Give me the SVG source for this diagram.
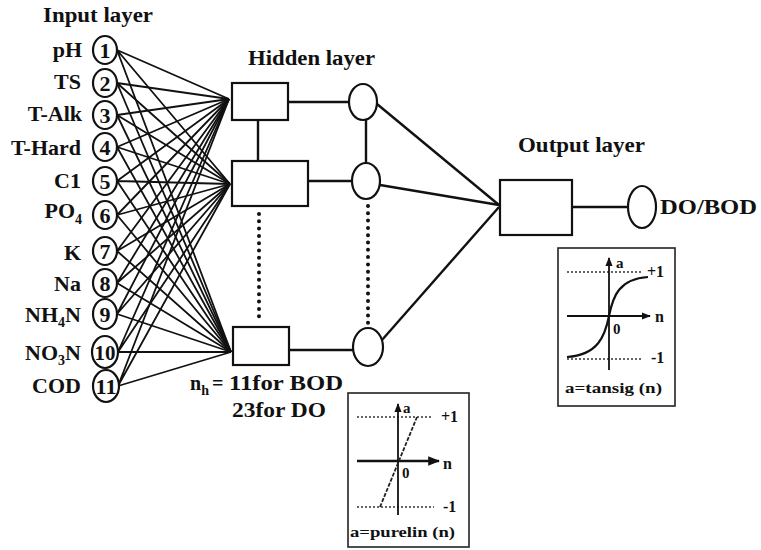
<svg xmlns="http://www.w3.org/2000/svg" width="761" height="550" viewBox="0 0 761 550">
  <style>
    text { font-family: "Liberation Serif", "Times New Roman", serif; font-weight: bold; fill: #111; }
    .head { font-size: 20px; }
    .lbl { font-size: 22px; text-anchor: end; }
    .num { font-size: 22px; text-anchor: middle; }
    .sub { font-size: 14px; }
    .node { fill: #fff; stroke: #111; stroke-width: 2.2; }
    .wire { stroke: #111; stroke-width: 1.8; fill: none; }
    .link { stroke: #111; stroke-width: 2.4; fill: none; }
    .dots { stroke: #111; stroke-width: 4; stroke-linecap: round; stroke-dasharray: 0 7.3; fill: none; }
    .frame { fill: #fff; stroke: #222; stroke-width: 1.6; }
    .axis { stroke: #111; stroke-width: 1.8; fill: none; }
    .guide { stroke: #333; stroke-width: 1.4; stroke-dasharray: 2 2; fill: none; }
    .small { font-size: 15px; }
    .tick { font-size: 16px; }
  </style>
  <defs>
    <marker id="arrow" viewBox="0 0 10 10" refX="9" refY="5" markerWidth="5" markerHeight="5" orient="auto">
      <path d="M0,1 L10,5 L0,9 z" fill="#111"/>
    </marker>
  </defs>

  <rect width="761" height="550" fill="#fff"/>

  <!-- layer headings -->
  <text class="head" x="43" y="22" textLength="110" lengthAdjust="spacingAndGlyphs">Input layer</text>
  <text class="head" x="248" y="65" textLength="127" lengthAdjust="spacingAndGlyphs">Hidden layer</text>
  <text class="head" x="518" y="152" style="font-size:21px" textLength="127" lengthAdjust="spacingAndGlyphs">Output layer</text>

  <!-- connectors: every input to every hidden unit, hidden to output -->
  <g id="connectors">
    <g class="wire">
      <path d="M117,50 L229,99 M117,50 L230,184 M117,50 L231,352"/>
      <path d="M117,83 L229,99 M117,83 L230,184 M117,83 L231,352"/>
      <path d="M117,115 L229,99 M117,115 L230,184 M117,115 L231,352"/>
      <path d="M117,147 L229,99 M117,147 L230,184 M117,147 L231,352"/>
      <path d="M117,181 L229,99 M117,181 L230,184 M117,181 L231,352"/>
      <path d="M117,215 L229,99 M117,215 L230,184 M117,215 L231,352"/>
      <path d="M117,251 L229,99 M117,251 L230,184 M117,251 L231,352"/>
      <path d="M117,283 L229,99 M117,283 L230,184 M117,283 L231,352"/>
      <path d="M117,314 L229,99 M117,314 L230,184 M117,314 L231,352"/>
      <path d="M118,352 L229,99 M118,352 L230,184 M118,352 L231,352"/>
      <path d="M118,386 L229,99 M118,386 L230,184 M118,386 L231,352"/>
    </g>
    <g class="link">
      <!-- summing boxes to transfer units -->
      <path d="M288,102 L349,102"/>
      <path d="M308,181 L352,181"/>
      <path d="M289,350 L353,350"/>
      <!-- vertical ties -->
      <path d="M258,120 L258,161"/>
      <path d="M366,119 L366,163"/>
      <!-- transfer units to output -->
      <path d="M377,104 L499,205"/>
      <path d="M380,185 L499,205"/>
      <path d="M382,340 L499,207"/>
      <!-- output to result -->
      <path d="M572,207 L628,207"/>
    </g>
    <path class="dots" d="M259,214 L259,322"/>
    <path class="dots" d="M368,206 L368,324"/>
  </g>

  <!-- input neurons -->
  <g id="in-1"><ellipse class="node" cx="105" cy="50" rx="12" ry="14"/><text class="num" x="105" y="58">1</text><text class="lbl" x="82" y="57">pH</text></g>
  <g id="in-2"><ellipse class="node" cx="105" cy="83" rx="12" ry="14"/><text class="num" x="105" y="91">2</text><text class="lbl" x="81" y="89">TS</text></g>
  <g id="in-3"><ellipse class="node" cx="105" cy="115" rx="12" ry="14"/><text class="num" x="105" y="123">3</text><text class="lbl" x="82" y="121">T-Alk</text></g>
  <g id="in-4"><ellipse class="node" cx="105" cy="147" rx="12" ry="14"/><text class="num" x="105" y="155">4</text><text class="lbl" x="81" y="155">T-Hard</text></g>
  <g id="in-5"><ellipse class="node" cx="105" cy="181" rx="12" ry="14"/><text class="num" x="105" y="189">5</text><text class="lbl" x="81" y="188">C1</text></g>
  <g id="in-6"><ellipse class="node" cx="105" cy="215" rx="12" ry="14"/><text class="num" x="105" y="223">6</text><text class="lbl" x="82" y="218">PO<tspan class="sub" dy="6">4</tspan></text></g>
  <g id="in-7"><ellipse class="node" cx="105" cy="251" rx="12" ry="14"/><text class="num" x="105" y="259">7</text><text class="lbl" x="81" y="260">K</text></g>
  <g id="in-8"><ellipse class="node" cx="105" cy="283" rx="12" ry="14"/><text class="num" x="105" y="291">8</text><text class="lbl" x="81" y="291">Na</text></g>
  <g id="in-9"><ellipse class="node" cx="105" cy="314" rx="12" ry="15"/><text class="num" x="105" y="322">9</text><text class="lbl" x="81" y="322">NH<tspan class="sub" dy="5">4</tspan><tspan dy="-5">N</tspan></text></g>
  <g id="in-10"><ellipse class="node" cx="105" cy="352" rx="13" ry="16"/><text class="num" x="105" y="360" textLength="21" lengthAdjust="spacingAndGlyphs">10</text><text class="lbl" x="81" y="360">NO<tspan class="sub" dy="5">3</tspan><tspan dy="-5">N</tspan></text></g>
  <g id="in-11"><ellipse class="node" cx="106" cy="386" rx="13" ry="16"/><text class="num" x="106" y="394" textLength="21" lengthAdjust="spacingAndGlyphs">11</text><text class="lbl" x="81" y="393">COD</text></g>

  <!-- hidden layer: summing boxes -->
  <g id="hidden-sum-1"><rect class="node" x="232" y="83" width="56" height="37"/></g>
  <g id="hidden-sum-2"><rect class="node" x="232" y="161" width="76" height="45"/></g>
  <g id="hidden-sum-n"><rect class="node" x="233" y="327" width="56" height="38"/></g>

  <!-- hidden layer: transfer units -->
  <g id="hidden-act-1"><ellipse class="node" cx="363" cy="102" rx="14" ry="18"/></g>
  <g id="hidden-act-2"><ellipse class="node" cx="366" cy="181" rx="14" ry="18"/></g>
  <g id="hidden-act-n"><ellipse class="node" cx="368" cy="347" rx="15" ry="19"/></g>

  <!-- hidden size note -->
  <g id="hidden-size">
    <text style="font-size:20px" x="190" y="390">n<tspan class="sub" dy="5">h</tspan></text>
    <text style="font-size:20px" x="212" y="390">=</text>
    <text style="font-size:20px" x="229" y="390" textLength="114" lengthAdjust="spacingAndGlyphs">11for BOD</text>
    <text style="font-size:20px" x="232" y="417" textLength="94" lengthAdjust="spacingAndGlyphs">23for DO</text>
  </g>

  <!-- output layer -->
  <g id="output-sum"><rect class="node" x="500" y="180" width="72" height="55"/></g>
  <g id="output-node">
    <ellipse class="node" cx="642" cy="207" rx="14" ry="21"/>
    <text style="font-size:22px" x="660" y="214" textLength="97" lengthAdjust="spacingAndGlyphs">DO/BOD</text>
  </g>

  <!-- linear transfer function -->
  <g id="purelin-plot">
    <rect class="frame" x="348" y="393" width="121" height="154"/>
    <path class="guide" d="M357,417 L432,417"/>
    <path class="guide" d="M357,507 L434,507"/>
    <path class="axis" d="M398,515 L398,404" marker-end="url(#arrow)"/>
    <path class="axis" d="M357,461 L439,461" marker-end="url(#arrow)" style="stroke-width:2.4"/>
    <path d="M380,507 L417,417" stroke="#222" stroke-width="1.8" stroke-dasharray="4 1.5" fill="none"/>
    <text class="small" x="403" y="413">a</text>
    <text class="tick" x="441" y="422">+1</text>
    <text class="tick" x="443" y="469">n</text>
    <text class="small" x="402" y="478">0</text>
    <text class="tick" x="443" y="512">-1</text>
    <text class="small" x="350" y="537" textLength="105" lengthAdjust="spacingAndGlyphs">a=purelin (n)</text>
  </g>

  <!-- sigmoid transfer function -->
  <g id="tansig-plot">
    <rect class="frame" x="558" y="248" width="117" height="158"/>
    <path class="guide" d="M567,272 L642,272"/>
    <path class="guide" d="M567,359 L642,359"/>
    <path class="axis" d="M609,370 L609,258" marker-end="url(#arrow)"/>
    <path class="axis" d="M567,316 L650,316" marker-end="url(#arrow)"/>
    <path d="M567,357 C598,355 605,336 609,316 C613,296 619,279 648,277" stroke="#111" stroke-width="2.2" fill="none"/>
    <text class="small" x="616" y="268">a</text>
    <text class="tick" x="647" y="277">+1</text>
    <text class="tick" x="655" y="322">n</text>
    <text class="small" x="613" y="334">0</text>
    <text class="tick" x="651" y="363">-1</text>
    <text class="small" x="565" y="393" textLength="97" lengthAdjust="spacingAndGlyphs">a=tansig (n)</text>
  </g>
</svg>
